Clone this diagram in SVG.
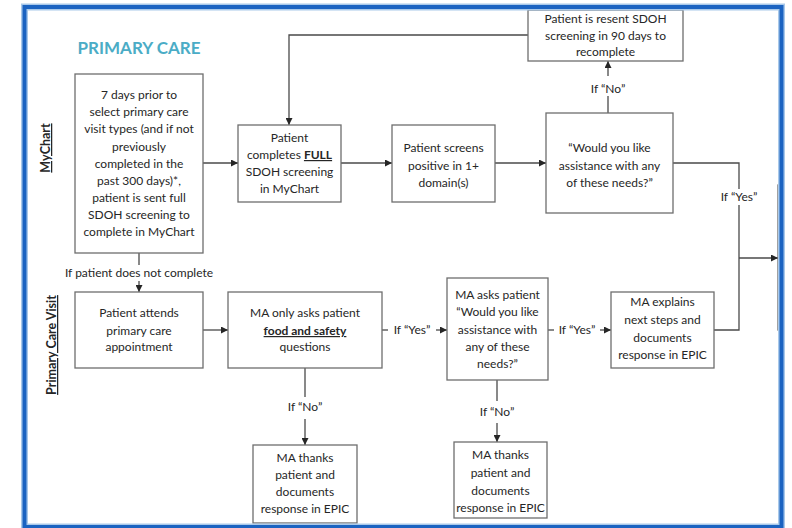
<svg xmlns="http://www.w3.org/2000/svg" width="792" height="528" viewBox="0 0 792 528">
<style>
.box{fill:#fff;stroke:#6e6e6e;stroke-width:1.3}
.t{font-family:Lato,"Liberation Sans",sans-serif;font-size:12px;fill:#262626;text-anchor:middle}
.b{font-weight:bold;text-decoration:underline}
.c{fill:none;stroke:#4a4a4a;stroke-width:1.3}
.lane{font-family:Lato,"Liberation Sans",sans-serif;font-size:12.5px;font-weight:bold;text-decoration:underline;fill:#262626;text-anchor:middle}
</style>
<defs>
<marker id="ah" viewBox="0 0 8 8" refX="8" refY="4" markerWidth="7" markerHeight="7" markerUnits="userSpaceOnUse" orient="auto">
<path d="M0,0 L8,4 L0,8 z" fill="#262626"/>
</marker>
</defs>
<rect x="0" y="0" width="792" height="528" fill="#fff"/>
<text x="139" y="54" font-family="Lato,'Liberation Sans',sans-serif" font-size="17" font-weight="bold" fill="#4bacc6" text-anchor="middle">PRIMARY CARE</text>
<text class="lane" transform="translate(50,148) rotate(-90)">MyChart</text>
<text class="lane" transform="translate(56,345) rotate(-90)">Primary Care Visit</text>

<g id="connectors">
<line class="c" x1="203" y1="163" x2="238" y2="163" marker-end="url(#ah)"/>
<line class="c" x1="341" y1="163" x2="392" y2="163" marker-end="url(#ah)"/>
<line class="c" x1="495" y1="163" x2="546" y2="163" marker-end="url(#ah)"/>
<line class="c" x1="608" y1="113" x2="608" y2="96"/>
<line class="c" x1="608" y1="76" x2="608" y2="61" marker-end="url(#ah)"/>
<text class="t" x="608" y="93">If “No”</text>
<polyline class="c" points="528,35 289,35 289,125" marker-end="url(#ah)"/>
<polyline class="c" points="673,163 739,163 739,189"/>
<text class="t" x="739" y="201">If “Yes”</text>
<polyline class="c" points="739,205 739,330 714,330"/>
<line class="c" x1="739" y1="258" x2="778" y2="258" marker-end="url(#ah)"/>
<line class="c" x1="139" y1="253" x2="139" y2="265"/>
<text class="t" x="139" y="277">If patient does not complete</text>
<line class="c" x1="139" y1="281" x2="139" y2="292" marker-end="url(#ah)"/>
<line class="c" x1="203" y1="330" x2="228" y2="330" marker-end="url(#ah)"/>
<line class="c" x1="382" y1="330" x2="388" y2="330"/>
<text class="t" x="412" y="334">If “Yes”</text>
<line class="c" x1="436" y1="330" x2="447" y2="330" marker-end="url(#ah)"/>
<line class="c" x1="548" y1="330" x2="554" y2="330"/>
<text class="t" x="577" y="334">If “Yes”</text>
<line class="c" x1="600" y1="330" x2="611" y2="330" marker-end="url(#ah)"/>
<line class="c" x1="305" y1="368" x2="305" y2="397"/>
<text class="t" x="305" y="411">If “No”</text>
<line class="c" x1="305" y1="419" x2="305" y2="445" marker-end="url(#ah)"/>
<line class="c" x1="497" y1="380" x2="497" y2="401"/>
<text class="t" x="497" y="416">If “No”</text>
<line class="c" x1="497" y1="423" x2="497" y2="442" marker-end="url(#ah)"/>
</g>

<g id="n-start">
<rect class="box" x="75" y="74" width="128" height="179"/>
<text class="t" x="139" y="99">7 days prior to</text>
<text class="t" x="139" y="116">select primary care</text>
<text class="t" x="139" y="133">visit types (and if not</text>
<text class="t" x="139" y="151">previously</text>
<text class="t" x="139" y="168">completed in the</text>
<text class="t" x="139" y="185">past 300 days)*,</text>
<text class="t" x="139" y="202">patient is sent full</text>
<text class="t" x="139" y="219">SDOH screening to</text>
<text class="t" x="139" y="236">complete in MyChart</text>
</g>
<g id="n-full">
<rect class="box" x="238" y="125" width="103" height="77"/>
<text class="t" x="289.5" y="142">Patient</text>
<text class="t" x="289.5" y="159">completes <tspan class="b">FULL</tspan></text>
<text class="t" x="289.5" y="176">SDOH screening</text>
<text class="t" x="289.5" y="193">in MyChart</text>
</g>
<g id="n-positive">
<rect class="box" x="392" y="125" width="103" height="77"/>
<text class="t" x="443.5" y="152">Patient screens</text>
<text class="t" x="443.5" y="170">positive in 1+</text>
<text class="t" x="443.5" y="187">domain(s)</text>
</g>
<g id="n-assist">
<rect class="box" x="546" y="113" width="127" height="100"/>
<text class="t" x="609.5" y="152">“Would you like</text>
<text class="t" x="609.5" y="170">assistance with any</text>
<text class="t" x="609.5" y="187">of these needs?”</text>
</g>
<g id="n-resent">
<rect class="box" x="528" y="10" width="155" height="51"/>
<text class="t" x="605.5" y="23">Patient is resent SDOH</text>
<text class="t" x="605.5" y="40">screening in 90 days to</text>
<text class="t" x="605.5" y="56">recomplete</text>
</g>
<g id="n-attend">
<rect class="box" x="75" y="292" width="128" height="76"/>
<text class="t" x="139" y="317">Patient attends</text>
<text class="t" x="139" y="335">primary care</text>
<text class="t" x="139" y="351">appointment</text>
</g>
<g id="n-foodsafety">
<rect class="box" x="228" y="292" width="154" height="76"/>
<text class="t" x="305" y="317">MA only asks patient</text>
<text class="t b" x="305" y="335">food and safety</text>
<text class="t" x="305" y="351">questions</text>
</g>
<g id="n-ma-asks">
<rect class="box" x="447" y="278" width="101" height="102"/>
<text class="t" x="497.5" y="299">MA asks patient</text>
<text class="t" x="497.5" y="316">“Would you like</text>
<text class="t" x="497.5" y="334">assistance with</text>
<text class="t" x="497.5" y="351">any of these</text>
<text class="t" x="497.5" y="368">needs?”</text>
</g>
<g id="n-explains">
<rect class="box" x="611" y="292" width="103" height="76"/>
<text class="t" x="662.5" y="306">MA explains</text>
<text class="t" x="662.5" y="324">next steps and</text>
<text class="t" x="662.5" y="342">documents</text>
<text class="t" x="662.5" y="359">response in EPIC</text>
</g>
<g id="n-thanks1">
<rect class="box" x="253" y="445" width="104" height="78"/>
<text class="t" x="305" y="462">MA thanks</text>
<text class="t" x="305" y="479">patient and</text>
<text class="t" x="305" y="496">documents</text>
<text class="t" x="305" y="513">response in EPIC</text>
</g>
<g id="n-thanks2">
<rect class="box" x="454" y="442" width="93" height="76"/>
<text class="t" x="500.5" y="459">MA thanks</text>
<text class="t" x="500.5" y="477">patient and</text>
<text class="t" x="500.5" y="495">documents</text>
<text class="t" x="500.5" y="512">response in EPIC</text>
</g>
<g id="n-offpage">
<rect class="box" x="778" y="185" width="4" height="145"/>
</g>
<rect x="24.5" y="7" width="757" height="520" fill="none" stroke="#a9c9ea" stroke-width="7"/>
<rect x="24.5" y="7" width="757" height="520" fill="none" stroke="#1b63c1" stroke-width="4"/>
</svg>
